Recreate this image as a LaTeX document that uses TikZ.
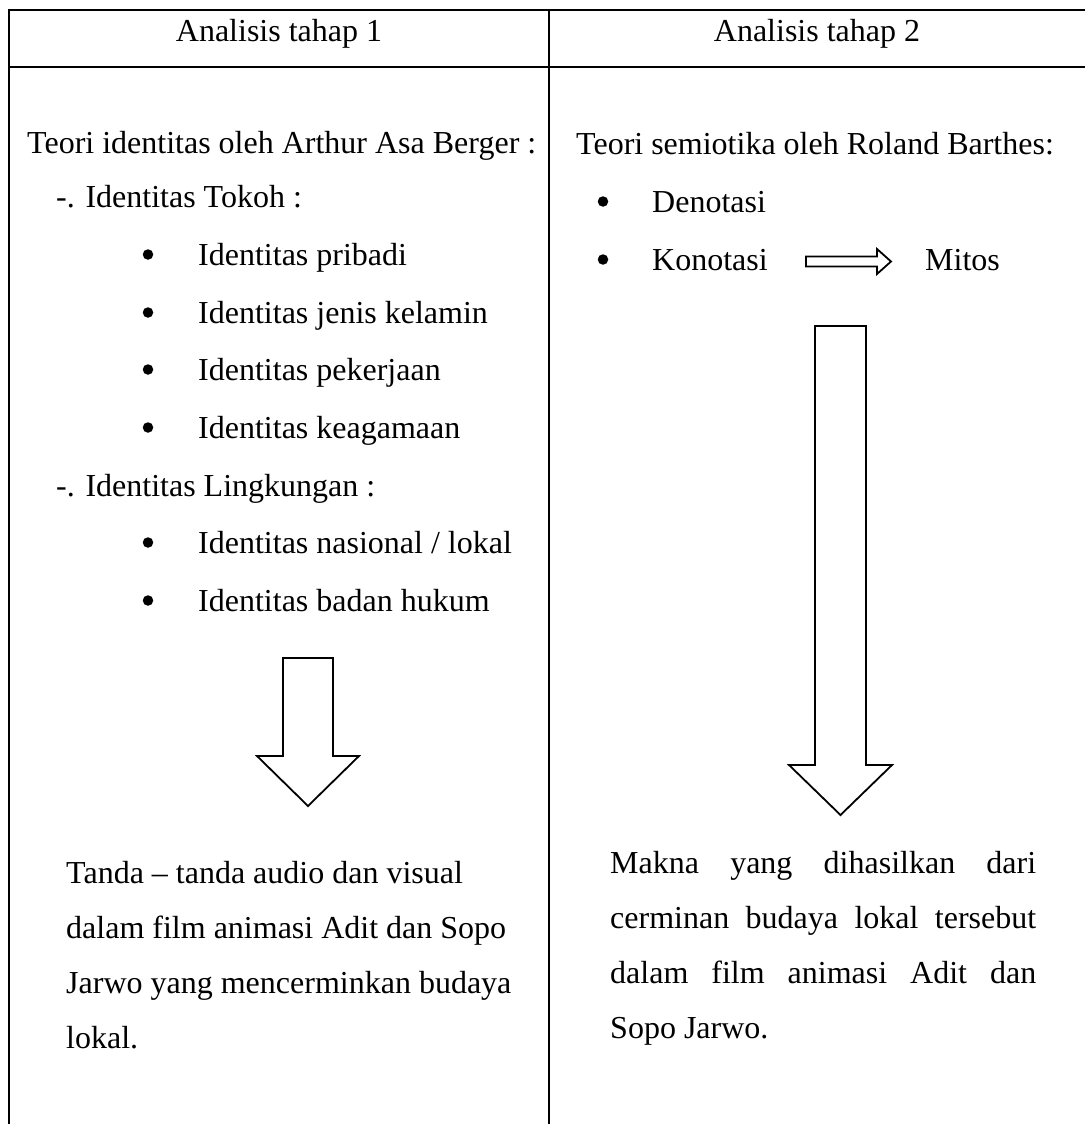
\documentclass[tikz,border=0pt]{standalone}
\usepackage{fontspec}
\setmainfont{Liberation Serif}
\begin{document}
\begin{tikzpicture}[x=1pt,y=-1pt,
  txt/.style={anchor=base west, inner sep=0pt, font=\fontsize{32}{38}\selectfont},
  ctxt/.style={anchor=base, inner sep=0pt, font=\fontsize{32}{38}\selectfont},
  bul/.style={circle, fill=black, inner sep=0pt, minimum size=10.5pt},
  rulex/.style={line width=2pt},
  blockarrow/.style={draw, line width=1.8pt, fill=white, line join=miter}]
\useasboundingbox (0,0) rectangle (1085,1124);
% table rules
\coordinate (tl) at (8,10.5);
\coordinate (tr) at (1085,10.5);
\coordinate (hl) at (8,67);
\coordinate (hr) at (1085,67);
\coordinate (lt) at (9,9.5);
\coordinate (bl) at (9,1124);
\coordinate (mt) at (549,10.5);
\coordinate (mb) at (549,1124);
\draw[rulex] (tl) -- (tr);
\draw[rulex] (hl) -- (hr);
\draw[rulex] (lt) -- (bl);
\draw[rulex] (mt) -- (mb);
% headers
\node[ctxt] (h1) at (279,42) {Analisis tahap 1};
\node[ctxt] (h2) at (817,42) {Analisis tahap 2};
% left column
\node[txt] (t1) at (27,153) {Teori identitas oleh Arthur Asa Berger :};
\node[txt] (g1) at (56,207) {-. Identitas Tokoh :};
\node[bul] (b1) at (148,254.5) {};
\node[txt] (i1) at (198,265) {Identitas pribadi};
\node[bul] (b2) at (148,312.5) {};
\node[txt] (i2) at (198,323) {Identitas jenis kelamin};
\node[bul] (b3) at (148,369.5) {};
\node[txt] (i3) at (198,380) {Identitas pekerjaan};
\node[bul] (b4) at (148,427.5) {};
\node[txt] (i4) at (198,438) {Identitas keagamaan};
\node[txt] (g2) at (56,496) {-. Identitas Lingkungan :};
\node[bul] (b5) at (148,542.5) {};
\node[txt] (i5) at (198,553) {Identitas nasional / lokal};
\node[bul] (b6) at (148,600.5) {};
\node[txt] (i6) at (198,611) {Identitas badan hukum};
% left down arrow
\draw[blockarrow] (283,658) -- (333,658) -- (333,756) -- (359,756) -- (308,806)
  -- (257,756) -- (283,756) -- cycle;
% left paragraph
\node[txt] (p1) at (66,883) {Tanda – tanda audio dan visual};
\node[txt] (p2) at (66,938) {dalam film animasi Adit dan Sopo};
\node[txt] (p3) at (66,993) {Jarwo yang mencerminkan budaya};
\node[txt] (p4) at (66,1048) {lokal.};
% right column
\node[txt] (t2) at (576,154) {Teori semiotika oleh Roland Barthes:};
\node[bul] (b7) at (603,201.5) {};
\node[txt] (d1) at (652,212) {Denotasi};
\node[bul] (b8) at (603,259.5) {};
\node[txt] (k1) at (652,270) {Konotasi};
\node[txt] (m1) at (925,270) {Mitos};
% right small arrow
\draw[blockarrow] (806,256.5) -- (877,256.5) -- (877,249) -- (891,261.5) -- (877,274)
  -- (877,266.5) -- (806,266.5) -- cycle;
% right down arrow
\draw[blockarrow] (815,326) -- (866,326) -- (866,765) -- (892,765) -- (840.5,815)
  -- (789,765) -- (815,765) -- cycle;
% right paragraph
\node[txt] (q1) at (610,873) {\makebox[426pt][s]{Makna yang dihasilkan dari}};
\node[txt] (q2) at (610,928) {\makebox[426pt][s]{cerminan budaya lokal tersebut}};
\node[txt] (q3) at (610,983) {\makebox[426pt][s]{dalam film animasi Adit dan}};
\node[txt] (q4) at (610,1038) {Sopo Jarwo.};
\end{tikzpicture}
\end{document}
